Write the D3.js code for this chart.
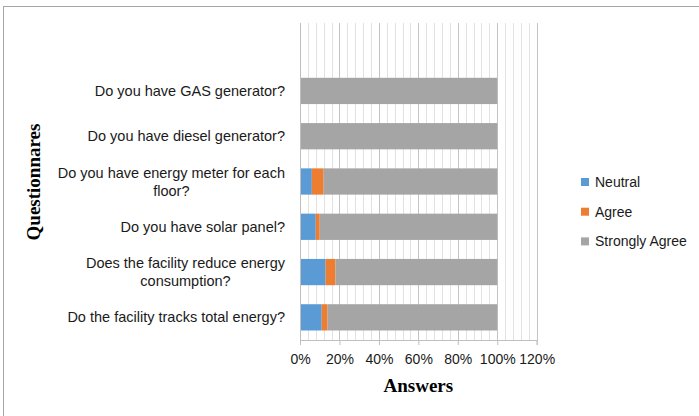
<!DOCTYPE html>
<html>
<head>
<meta charset="utf-8">
<script src="https://cdn.jsdelivr.net/npm/d3@7"></script>
<style>
  html, body { margin: 0; padding: 0; background: #fff; }
  svg { display: block; }
</style>
</head>
<body>
<svg id="chart" width="699" height="416"></svg>
<script>
// Survey questions, listed bottom to top as they appear on the chart
const categories = [
  "Do the facility tracks total energy?",
  "Does the facility reduce energy consumption?",
  "Do you have solar panel?",
  "Do you have energy meter for each floor?",
  "Do you have diesel generator?",
  "Do you have GAS generator?"
];
const seriesNames = ["Neutral", "Agree", "Strongly Agree"];
const neutral       = [11, 13, 8, 6, 0, 0];
const agree         = [3, 5, 2, 6, 0, 0];
const stronglyAgree = [86, 82, 90, 88, 100, 100];
const tickValues = [0, 20, 40, 60, 80, 100, 120];
const colors = ["#5B9BD5", "#ED7D31", "#A5A5A5"];

const rows = categories.map((c, i) => ({
  cat: c,
  "Neutral": neutral[i],
  "Agree": agree[i],
  "Strongly Agree": stronglyAgree[i]
}));

const svg = d3.select("#chart");
const sans = "'Liberation Sans', Arial, sans-serif";
const serif = "'Liberation Serif', 'Times New Roman', serif";

// outer frame
svg.append("rect")
  .attr("x", 3.5).attr("y", 6.5)
  .attr("width", 720).attr("height", 440)
  .attr("fill", "none").attr("stroke", "#A6A6A6").attr("stroke-width", 1);

const plotLeft = 300, plotRight = 536.7, plotTop = 23, plotBottom = 340;

const x = d3.scaleLinear().domain([0, 120]).range([plotLeft, plotRight]);
// one empty band is kept above the first question
const y = d3.scaleBand()
  .domain(["__blank__", ...categories.slice().reverse()])
  .range([plotTop, plotBottom])
  .paddingInner(0.42).paddingOuter(0.21);

// vertical gridlines every 4%, darker at every 20%
const grid = d3.range(4, 121, 4);
svg.append("g").selectAll("line").data(grid).join("line")
  .attr("x1", d => Math.round(x(d)) + 0.5).attr("x2", d => Math.round(x(d)) + 0.5)
  .attr("y1", plotTop).attr("y2", plotBottom)
  .attr("stroke", d => d % 20 === 0 ? "#C4C4C4" : "#E2E2E2")
  .attr("stroke-width", 1);

// stacked bars
const stack = d3.stack().keys(seriesNames)(rows);
svg.append("g").selectAll("g").data(stack).join("g")
  .attr("fill", (d, i) => colors[i])
  .selectAll("rect").data(d => d).join("rect")
  .attr("x", d => x(d[0]))
  .attr("width", d => x(d[1]) - x(d[0]))
  .attr("y", d => y(d.data.cat))
  .attr("height", y.bandwidth());

// value axis
const xAxis = svg.append("g")
  .attr("transform", `translate(0,${plotBottom})`)
  .call(d3.axisBottom(x).tickValues(tickValues).tickFormat(d => d + "%").tickSizeOuter(0).tickSize(5).tickPadding(9));
xAxis.select(".domain").attr("stroke", "#BFBFBF");
xAxis.selectAll(".tick line").attr("stroke", "#BFBFBF");
xAxis.selectAll(".tick text")
  .attr("font-family", sans).attr("font-size", 14).attr("fill", "#1a1a1a");

// category axis line
svg.append("line")
  .attr("x1", plotLeft + 0.5).attr("x2", plotLeft + 0.5)
  .attr("y1", plotTop).attr("y2", plotBottom)
  .attr("stroke", "#BFBFBF");

// category labels, wrapped and right-aligned as a block
const maxW = 240;
const labelRight = 285;
const labelSize = 14.5;
const labelG = svg.append("g");
categories.forEach(c => {
  const cy = y(c) + y.bandwidth() / 2;
  const probe = labelG.append("text")
    .attr("font-family", sans).attr("font-size", labelSize);
  const words = c.split(" ");
  const lines = [];
  let cur = [];
  words.forEach(w => {
    const test = cur.concat(w).join(" ");
    probe.text(test);
    if (probe.node().getComputedTextLength() > maxW && cur.length) {
      lines.push(cur.join(" "));
      cur = [w];
    } else {
      cur.push(w);
    }
  });
  lines.push(cur.join(" "));
  const widths = lines.map(l => { probe.text(l); return probe.node().getComputedTextLength(); });
  probe.remove();
  const blockW = d3.max(widths);
  const cx = labelRight - blockW / 2;
  const lh = 18;
  lines.forEach((l, i) => {
    labelG.append("text")
      .attr("x", cx)
      .attr("y", cy + (i - (lines.length - 1) / 2) * lh)
      .attr("dy", "0.35em")
      .attr("text-anchor", "middle")
      .attr("font-family", sans).attr("font-size", labelSize).attr("fill", "#1a1a1a")
      .text(l);
  });
});

// axis titles
svg.append("text")
  .attr("x", (plotLeft + plotRight) / 2).attr("y", 392)
  .attr("text-anchor", "middle")
  .attr("font-family", serif).attr("font-weight", "bold").attr("font-size", 19)
  .attr("fill", "#000")
  .text("Answers");

svg.append("text")
  .attr("transform", "translate(40,182) rotate(-90)")
  .attr("text-anchor", "middle")
  .attr("font-family", serif).attr("font-weight", "bold").attr("font-size", 19)
  .attr("fill", "#000")
  .text("Questionnares");

// legend
const legend = svg.append("g").selectAll("g").data(seriesNames).join("g")
  .attr("transform", (d, i) => `translate(581,${182 + i * 29.7})`);
legend.append("rect")
  .attr("x", 0).attr("y", -4).attr("width", 8).attr("height", 8)
  .attr("fill", (d, i) => colors[i]);
legend.append("text")
  .attr("x", 14).attr("dy", "0.35em")
  .attr("font-family", sans).attr("font-size", 14).attr("fill", "#1a1a1a")
  .text(d => d);
</script>
</body>
</html>
